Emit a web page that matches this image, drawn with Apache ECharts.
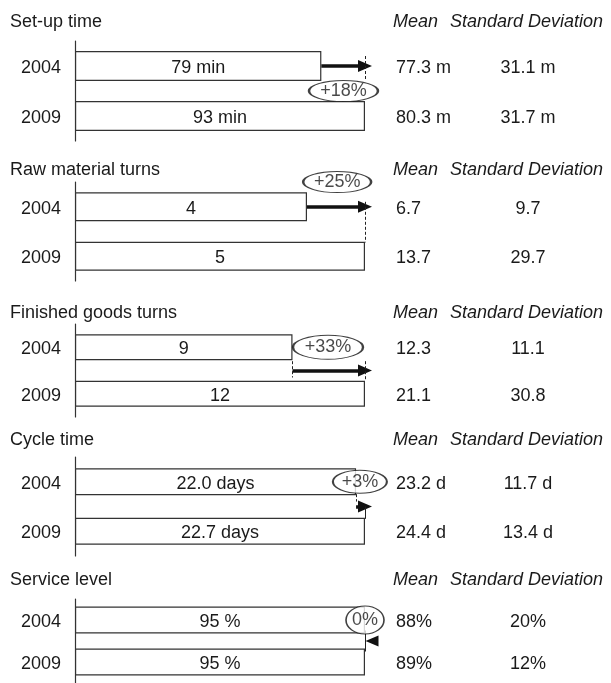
<!DOCTYPE html>
<html lang="en">

<head>
    <meta charset="UTF-8">
    <title>Set-up time, turns, cycle time, service level</title>
    <script src="https://cdn.jsdelivr.net/npm/echarts@6/dist/echarts.min.js"></script>
</head>

<style>
    body {
        margin: 0;
        background: #fff;
    }

    #main {
        width: 611px;
        height: 683px;
    }
</style>

<body>
    <div id="main"></div>
</body>

<script>
    // data
    const panelNames = ['Set-up time', 'Raw material turns', 'Finished goods turns', 'Cycle time', 'Service level'];
    const years = ['2004', '2009'];
    const values2004 = [79, 4, 9, 22.0, 95];
    const values2009 = [93, 5, 12, 22.7, 95];
    const barLabels2004 = ['79 min', '4', '9', '22.0 days', '95 %'];
    const barLabels2009 = ['93 min', '5', '12', '22.7 days', '95 %'];
    const changeLabels = ['+18%', '+25%', '+33%', '+3%', '0%'];
    const means2004 = ['77.3 m', '6.7', '12.3', '23.2 d', '88%'];
    const means2009 = ['80.3 m', '13.7', '21.1', '24.4 d', '89%'];
    const sd2004 = ['31.1 m', '9.7', '11.1', '11.7 d', '20%'];
    const sd2009 = ['31.7 m', '29.7', '30.8', '13.4 d', '12%'];

    // layout
    const gridTops = [41, 182, 324, 457, 599];
    const gridHeights = [100, 99, 93, 99, 93];
    const barWidths = [30, 29, 26, 27, 27];
    const titleTops = [13, 161, 304, 431, 571];
    // ellipse: x in data units, y in slot units (0 = 2004 bar, 1 = 2009 bar)
    const ellipses = [
        { x: 86.1, y: 0.5, w: 69, h: 21 },
        { x: 4.52, y: -0.5, w: 68, h: 21 },
        { x: 10.47, y: 0, w: 70, h: 24 },
        { x: 22.3, y: 0, w: 54, h: 23 },
        { x: 95, y: 0, w: 38, h: 28 }
    ];

    const font = "'Liberation Sans', Arial, sans-serif";
    const ink = '#1a1a1a';
    const ellipsePath = 'path://M0,10A20,10,0,1,1,40,10A20,10,0,1,1,0,10Z';

    function arrow(x1, x2, y) {
        return [
            { coord: [x1, y], symbol: 'none' },
            { coord: [x2, y], symbol: 'triangle', symbolSize: [12, 14], lineStyle: { width: 3.5, type: 'solid', color: '#111' } }
        ];
    }

    function tick(x, y1, y2, dashed) {
        return [
            { coord: [x, y1], symbol: 'none' },
            { coord: [x, y2], symbol: 'none', lineStyle: { width: 1, type: dashed ? [3, 2] : 'solid', color: '#222' } }
        ];
    }

    const markLines = [
        [arrow(values2004[0], values2009[0], 0), tick(values2009[0], -0.2, 0.3, true)],
        [arrow(values2004[1], values2009[1], 0), tick(values2009[1], -0.1, 0.72, true)],
        [arrow(values2004[2], values2009[2], 0.5), tick(values2004[2], 0.3, 0.65, true), tick(values2009[2], 0.3, 0.72, true)],
        [arrow(values2004[3], values2009[3], 0.5), tick(values2004[3], 0.25, 0.4, true), tick(values2009[3], 0.5, 0.75, false)],
        [tick(values2009[4], 0.25, 0.75, false)]
    ];

    const chart = echarts.init(document.getElementById('main'));

    const option = {
        animation: false,
        textStyle: { fontFamily: font },
        title: [],
        grid: [],
        xAxis: [],
        yAxis: [],
        series: []
    };

    for (let k = 0; k < panelNames.length; k++) {
        option.title.push({
            text: panelNames[k],
            left: 10,
            top: titleTops[k],
            padding: 0,
            textStyle: { fontSize: 18, fontWeight: 'normal', color: ink, fontFamily: font }
        });
        option.title.push({
            text: '{a|Mean}{b|Standard Deviation}',
            left: 393,
            top: titleTops[k],
            padding: 0,
            textStyle: {
                fontSize: 18, fontWeight: 'normal', color: ink, fontFamily: font,
                rich: {
                    a: { fontSize: 18, fontStyle: 'italic', color: ink, width: 57, fontFamily: font },
                    b: { fontSize: 18, fontStyle: 'italic', color: ink, fontFamily: font }
                }
            }
        });

        option.grid.push({ left: 75, width: 290, top: gridTops[k], height: gridHeights[k] });

        option.xAxis.push({
            gridIndex: k,
            type: 'value',
            min: 0,
            max: Math.max(values2004[k], values2009[k]),
            show: false
        });

        // years on the left (rich text so the line can be nudged down a little)
        option.yAxis.push({
            gridIndex: k,
            type: 'category',
            position: 'left',
            data: years,
            inverse: true,
            axisLine: { lineStyle: { color: '#333', width: 1.2 } },
            axisTick: { show: false },
            axisLabel: {
                margin: 14,
                formatter: function (value) {
                    return '{y|' + value + '}';
                },
                rich: {
                    y: { fontSize: 18, color: ink, fontFamily: font, padding: [4, 0, 0, 0] }
                }
            }
        });
        // mean and standard deviation on the right
        option.yAxis.push({
            gridIndex: k,
            type: 'category',
            position: 'right',
            data: years,
            inverse: true,
            axisLine: { show: false },
            axisTick: { show: false },
            axisLabel: {
                margin: 31,
                padding: [4, 0, 0, 0],
                formatter: function (value, index) {
                    const m = index === 0 ? means2004[k] : means2009[k];
                    const s = index === 0 ? sd2004[k] : sd2009[k];
                    return '{m|' + m + '}{s|' + s + '}';
                },
                rich: {
                    m: { fontSize: 18, color: ink, width: 102, fontFamily: font },
                    s: { fontSize: 18, color: ink, width: 60, align: 'center', fontFamily: font }
                }
            }
        });
        // hidden slot axis for the annotations
        option.yAxis.push({
            gridIndex: k,
            type: 'value',
            min: -0.5,
            max: 1.5,
            inverse: true,
            show: false
        });

        option.series.push({
            type: 'bar',
            xAxisIndex: k,
            yAxisIndex: 3 * k,
            barWidth: barWidths[k],
            data: [values2004[k], values2009[k]],
            itemStyle: { color: '#fff', borderColor: '#333', borderWidth: 1.2 },
            label: {
                show: true,
                position: 'inside',
                offset: [0, 2],
                fontSize: 18,
                color: ink,
                fontFamily: font,
                formatter: function (p) {
                    return p.dataIndex === 0 ? barLabels2004[k] : barLabels2009[k];
                }
            },
            silent: true
        });

        const e = ellipses[k];
        const sc = {
            type: 'scatter',
            xAxisIndex: k,
            yAxisIndex: 3 * k + 2,
            clip: false,
            z: 5,
            symbol: ellipsePath,
            symbolSize: [e.w, e.h],
            data: [[e.x, e.y]],
            itemStyle: { color: '#fff', borderColor: '#111', borderWidth: 1.4 },
            label: {
                show: true,
                position: 'inside',
                fontSize: 18,
                color: ink,
                fontFamily: font,
                formatter: changeLabels[k]
            },
            markLine: {
                silent: true,
                symbol: 'none',
                label: { show: false },
                lineStyle: { color: '#222', type: 'solid' },
                data: markLines[k]
            },
            silent: true
        };
        if (k === 4) {
            sc.markPoint = {
                silent: true,
                label: { show: false },
                itemStyle: { color: '#111' },
                data: [{
                    coord: [values2009[k], 0.5],
                    symbol: 'triangle',
                    symbolSize: [11, 13],
                    symbolRotate: 90,
                    symbolOffset: [7, 0]
                }]
            };
        }
        option.series.push(sc);
    }

    chart.setOption(option);
    window.addEventListener('resize', function () {
        chart.resize();
    });
</script>

</html>
